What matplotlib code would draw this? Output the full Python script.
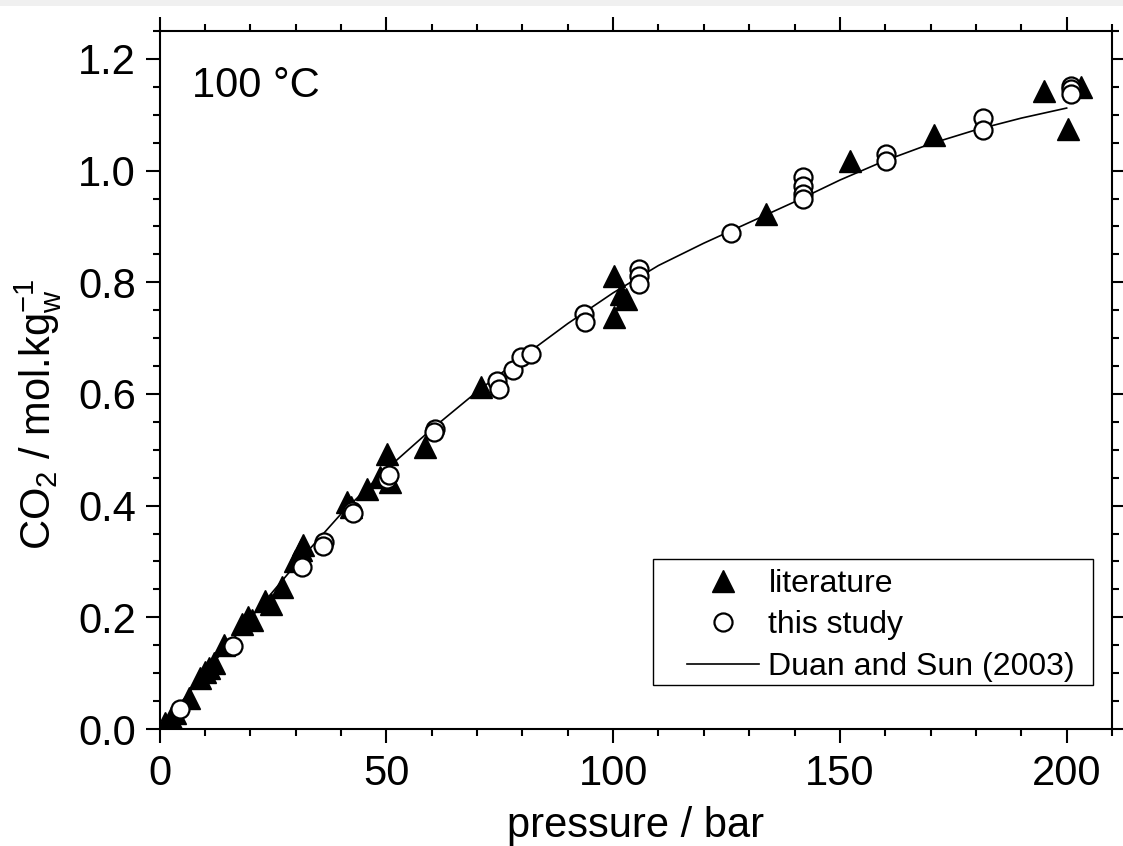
import matplotlib
matplotlib.use("Agg")
import matplotlib.pyplot as plt
from matplotlib.patches import Rectangle
from matplotlib.ticker import MultipleLocator

plt.rcParams['font.family'] = ['Liberation Sans', 'DejaVu Sans']
plt.rcParams['mathtext.fontset'] = 'custom'
plt.rcParams['mathtext.rm'] = 'Liberation Sans'
plt.rcParams['mathtext.it'] = 'Liberation Sans'

# ---- data ----
lit_p = [1.2, 2.5, 3.5, 6.4, 9.0, 10.0, 11.0, 12.0, 14.3, 18.1, 19.6, 20.4,
         23.3, 24.6, 27.0, 29.8, 31.2, 31.7, 41.3, 42.2, 45.7, 48.7, 50.1, 50.9,
         58.6, 70.8, 100.2, 101.7, 102.8, 100.2, 133.7, 152.3, 170.8, 195.0,
         203.2, 200.3]
lit_y = [0.010, 0.020, 0.028, 0.056, 0.092, 0.102, 0.110, 0.118, 0.150, 0.188,
         0.200, 0.195, 0.230, 0.224, 0.255, 0.300, 0.320, 0.329, 0.406, 0.398,
         0.430, 0.451, 0.493, 0.442, 0.505, 0.612, 0.812, 0.779, 0.770, 0.737,
         0.922, 1.018, 1.063, 1.143, 1.149, 1.075]

study_p = [4.5, 16.3, 31.4, 36.2, 36.0, 42.4, 42.6, 50.2, 50.5, 60.8, 60.5,
           74.4, 74.8, 78.0, 79.6, 81.8, 93.6, 93.9, 105.7, 105.7, 105.7, 125.9,
           141.8, 141.8, 141.8, 141.8, 160.2, 160.2, 181.5, 181.5, 201.0, 201.0,
           201.0]
study_y = [0.036, 0.148, 0.291, 0.334, 0.328, 0.391, 0.386, 0.448, 0.455, 0.537,
           0.532, 0.624, 0.609, 0.643, 0.666, 0.672, 0.743, 0.728, 0.824, 0.812,
           0.797, 0.889, 0.988, 0.973, 0.958, 0.949, 1.030, 1.018, 1.095, 1.072,
           1.152, 1.146, 1.137]

duan_p = [0, 10, 20, 30, 40, 50, 60, 70, 80, 90, 100, 110, 120, 130, 140, 150,
          160, 170, 180, 190, 200]
duan_y = [0.0, 0.100, 0.198, 0.294, 0.385, 0.465, 0.537, 0.604, 0.666, 0.726,
          0.781, 0.830, 0.870, 0.907, 0.944, 0.983, 1.018, 1.048, 1.073, 1.094,
          1.112]

W, H = 1123, 846
fig = plt.figure(figsize=(W / 100, H / 100), dpi=100)
fig.patches.append(Rectangle((0, 1 - 6 / H), 1, 6 / H, transform=fig.transFigure,
                             facecolor='#f0f0f0', edgecolor='none', zorder=-5))

L, R, T, B = 159.5, 1112, 31, 729
ax = fig.add_axes([L / W, 1 - B / H, (R - L) / W, (B - T) / H])

ax.plot(duan_p, duan_y, '-', color='black', lw=1.2, zorder=2,
        label='Duan and Sun (2003)')
ax.plot(lit_p, lit_y, '^', ls='none', color='black', ms=16, zorder=3,
        label='literature')
ax.plot(study_p, study_y, 'o', ls='none', mfc='white', mec='black', mew=1.6,
        ms=13, zorder=4, label='this study')

ax.set_xlim(0, 210)
ax.set_ylim(0, 1.25)
ax.xaxis.set_major_locator(MultipleLocator(50))
ax.xaxis.set_minor_locator(MultipleLocator(10))
ax.yaxis.set_major_locator(MultipleLocator(0.2))
ax.yaxis.set_minor_locator(MultipleLocator(0.05))
ax.yaxis.set_major_formatter(matplotlib.ticker.FormatStrFormatter('%.1f'))

for s in ax.spines.values():
    s.set_linewidth(1.5)
ax.tick_params(which='both', direction='out', top=True, right=True, width=1.5)
ax.tick_params(which='major', length=10, labelsize=30)
ax.tick_params(axis='x', which='major', pad=8)
ax.tick_params(axis='y', which='major', pad=7)
ax.tick_params(which='minor', length=5)

ax.set_xlabel('pressure / bar', fontsize=30)
ax.xaxis.label.set_va('baseline')
ax.xaxis.set_label_coords(0.5, (B - 837) / (B - T))

ax.set_ylabel(r'CO$_\mathrm{2}$ / mol.kg$_\mathrm{w}^\mathrm{-1}$', fontsize=30)
ax.yaxis.label.set_va('baseline')
ax.yaxis.set_label_coords((50 - L) / (R - L), (B - 414.5) / (B - T))

ax.text((191.7 - L) / (R - L), (B - 96.7) / (B - T), '100 °C', fontsize=30,
        transform=ax.transAxes, ha='left', va='baseline')

handles, labels = ax.get_legend_handles_labels()
order = [1, 2, 0]
ax.legend([handles[i] for i in order], [labels[i] for i in order],
          loc='upper left', bbox_to_anchor=((687 - L) / (R - L), (B - 569) / (B - T)),
          frameon=False, fontsize=23, borderpad=0, borderaxespad=0,
          handlelength=2.25, handletextpad=0.3, labelspacing=0.36, numpoints=1)
ax.add_patch(Rectangle(((653 - L) / (R - L), (B - 685) / (B - T)),
                       (1093 - 653) / (R - L), (685 - 559) / (B - T),
                       transform=ax.transAxes, fill=False, edgecolor='black',
                       lw=1.0, zorder=5))

fig.savefig('out.png', dpi=100)
